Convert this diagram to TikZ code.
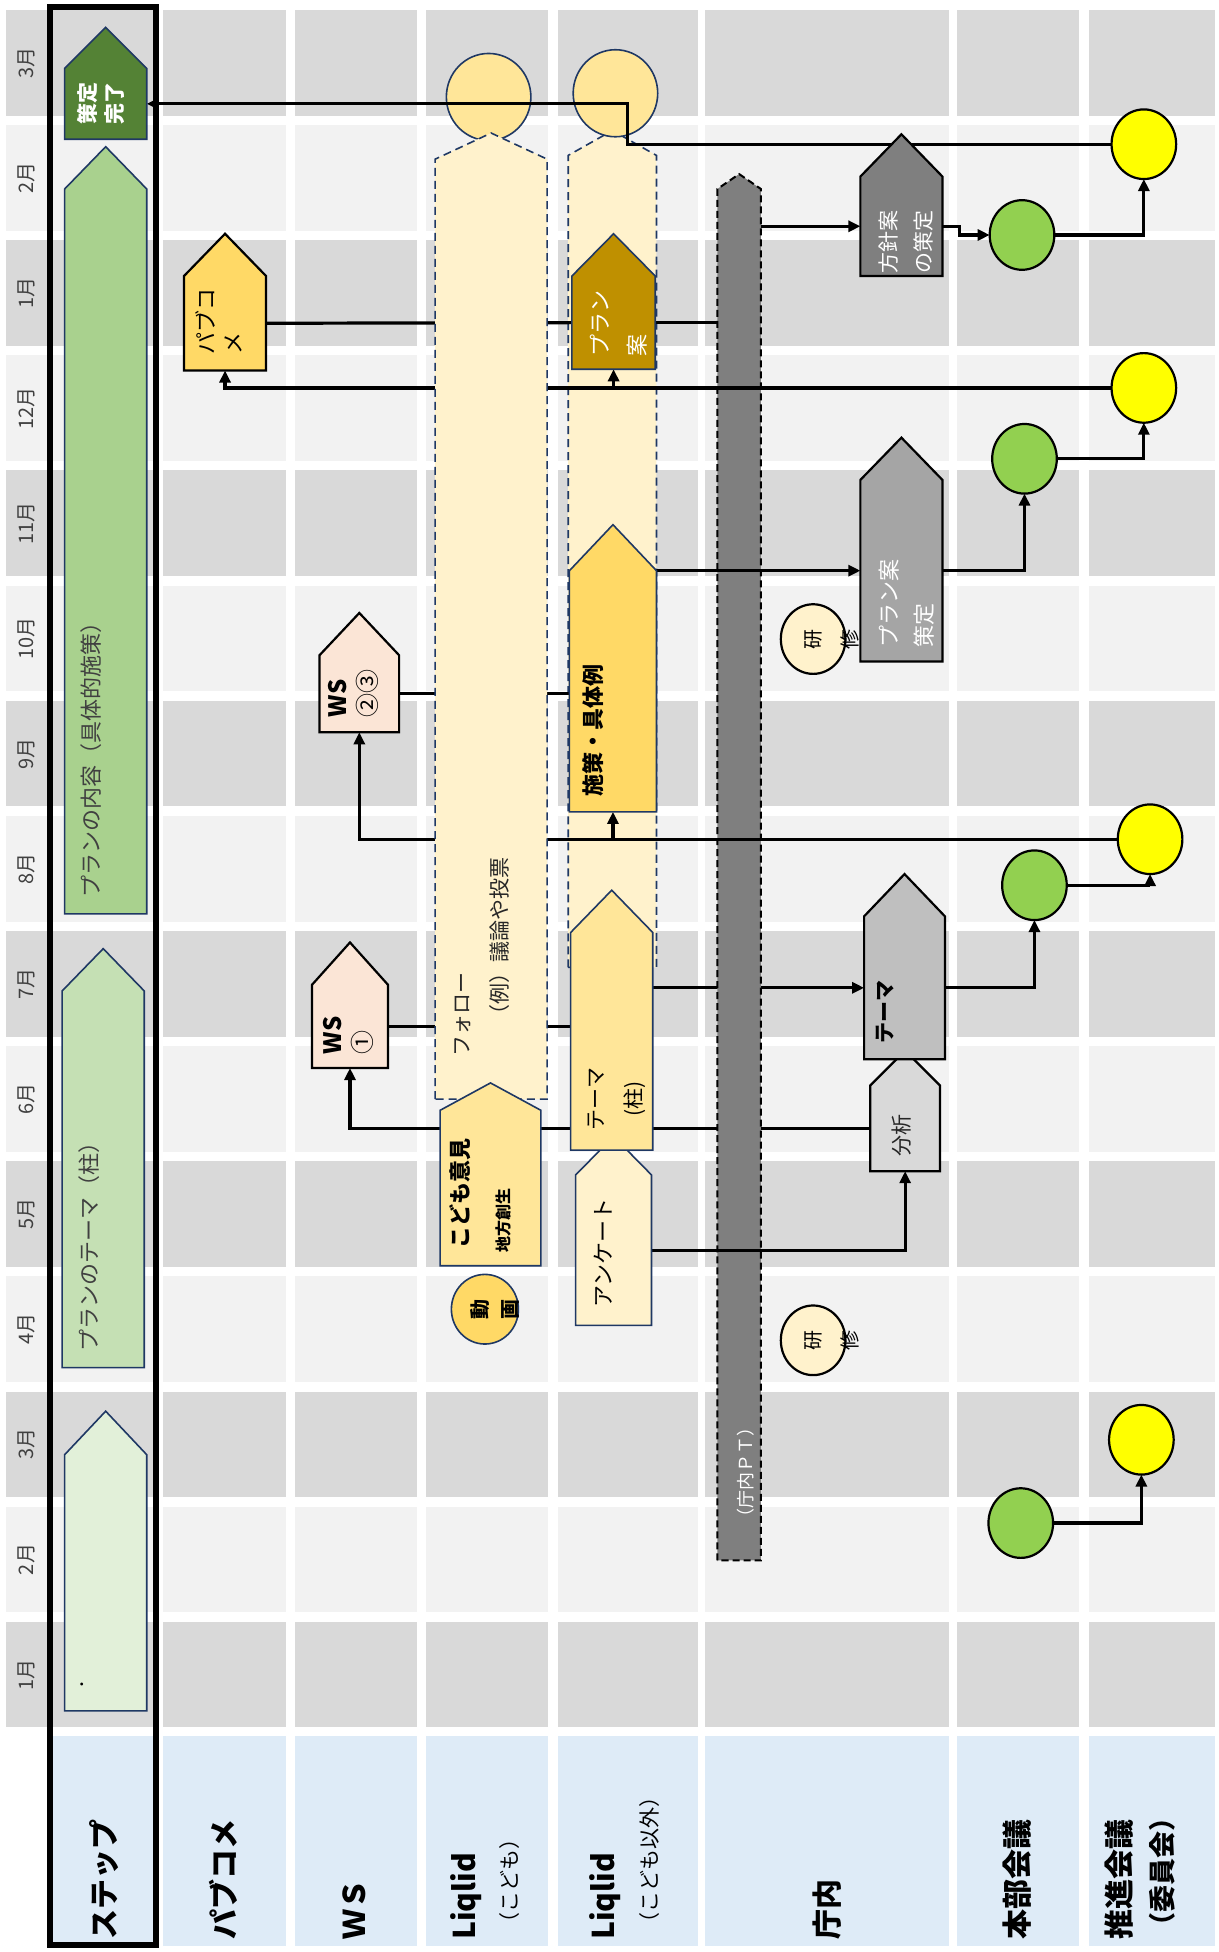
\documentclass[tikz,border=0pt]{standalone}
\usepackage{fontspec}
\setmainfont{Noto Sans CJK JP}
\usetikzlibrary{shapes.geometric,fit,arrows.meta}
\definecolor{dkgreen}{HTML}{548235}
\definecolor{grn2}{HTML}{A9D18E}
\definecolor{grn3}{HTML}{C5E0B4}
\definecolor{grn4}{HTML}{E2F0D9}
\definecolor{navy}{HTML}{1F3864}
\definecolor{yel}{HTML}{FFD966}
\definecolor{ltyel}{HTML}{FFE699}
\definecolor{cream}{HTML}{FFF2CC}
\definecolor{pinkc}{HTML}{FBE5D6}
\definecolor{gold}{HTML}{BF9000}
\definecolor{g7f}{HTML}{7F7F7F}
\definecolor{ga5}{HTML}{A5A5A5}
\definecolor{gbf}{HTML}{BFBFBF}
\definecolor{gd9}{HTML}{D9D9D9}
\definecolor{gf2}{HTML}{F2F2F2}
\definecolor{hdr}{HTML}{DEEBF7}
\definecolor{grc}{HTML}{92D050}
\definecolor{ylc}{HTML}{FFFF00}
\definecolor{txtg}{HTML}{404040}
\pgfdeclarelayer{grid}
\pgfdeclarelayer{low}
\pgfdeclarelayer{linesA}
\pgfdeclarelayer{ptl}
\pgfdeclarelayer{linesB}
\pgfsetlayers{grid,low,linesA,ptl,linesB,main}
% name, style, xl, xr, ytip, yshoulder, ybottom
\newcommand{\pent}[7]{%
  \filldraw[#2] (#3,#7) -- (#3,#6) -- ({(#3+#4)/2},#5) -- (#4,#6) -- (#4,#7) -- cycle;
  \node[fit={(#3,#6) (#4,#7)}, inner sep=0pt, outer sep=0pt] (#1) {};
}
\tikzset{
  blk/.style={draw=black, line width=2.2pt},
  nv/.style={draw=navy, line width=1.6pt},
  dsh/.style={draw=navy, line width=1.6pt, dash pattern=on 8pt off 5pt, fill=cream},
  ptst/.style={draw=black, line width=2pt, dash pattern=on 7pt off 4pt, fill=g7f},
  conn/.style={draw=black, line width=3.2pt},
  arr/.style={-{Triangle[length=12pt,width=11pt]}},
  circ/.style={ellipse, inner sep=0pt, outer sep=0pt, minimum width=64.6pt, minimum height=69.6pt, draw=black, line width=2.2pt},
  bigc/.style={ellipse, inner sep=0pt, outer sep=0pt, minimum width=84.5pt, minimum height=87pt, draw=navy, line width=1.6pt, fill=ltyel},
  rt/.style={rotate=90, inner sep=0pt, outer sep=0pt, align=left},
  hd/.style={rt, anchor=west, font=\bfseries\fontsize{30}{36}\selectfont},
}
\begin{document}
\begin{tikzpicture}[x=1.2429pt, y=-1.2429pt]
\useasboundingbox (0,0) rectangle (980,1570);
% ---------------- grid
\begin{pgfonlayer}{grid}
\foreach \i in {0,2,...,14} {
  \foreach \xl/\xr in {5/38, 40/127, 131/230, 237/335, 343/441, 449/561, 567/763, 770/868, 876/977}
    \fill[gd9] (\xl,{8+92.6*\i}) rectangle (\xr,{93+92.6*\i});
}
\foreach \i in {1,3,...,13} {
  \foreach \xl/\xr in {5/38, 40/127, 131/230, 237/335, 343/441, 449/561, 567/763, 770/868, 876/977}
    \fill[gf2] (\xl,{8+92.6*\i}) rectangle (\xr,{93+92.6*\i});
}
\foreach \xl/\xr in {40/127, 131/230, 237/335, 343/441, 449/561, 567/763, 770/868, 876/977}
  \fill[hdr] (\xl,1396) rectangle (\xr,1565);
\end{pgfonlayer}
% ---------------- low layer: plan area and top circles
\begin{pgfonlayer}{low}
\pent{planarea}{dsh}{457}{528}{105}{125}{778}
\node[bigc] (C1) at (393,78) {};
\node[bigc] (C2) at (495,75) {};
\end{pgfonlayer}
% ---------------- PT bar
\begin{pgfonlayer}{ptl}
\pent{ptbar}{ptst}{577}{612}{140}{152}{1255}
\end{pgfonlayer}
% ---------------- shapes (main)
\pent{kanryo}{nv, fill=dkgreen}{52}{118}{22}{55}{112}
\pent{naiyo}{nv, fill=grn2}{52}{118}{118}{152}{735}
\pent{theme}{nv, fill=grn3}{50}{116}{763}{797}{1100}
\pent{step1}{nv, fill=grn4}{52}{118}{1135}{1170}{1376}
\pent{pabu}{blk, fill=yel}{148}{214}{188}{222}{298}
\pent{ws23}{blk, fill=pinkc}{257}{321}{493}{527}{589}
\pent{ws1}{blk, fill=pinkc}{251}{312}{758}{792}{859}
\pent{follow}{dsh}{350}{440}{107}{128}{884}
\pent{kodomo}{nv, fill=ltyel}{354}{435}{871}{893}{1018}
\pent{planan}{nv, fill=gold}{460}{527}{188}{222}{297}
\pent{shisaku}{nv, fill=yel}{458}{528}{422}{459}{653}
\pent{enquete}{nv, fill=cream}{463}{524}{914}{945}{1066}
\pent{temahashira}{nv, fill=ltyel}{459}{525}{716}{750}{925}
\pent{hoshin}{blk, fill=g7f}{692}{758}{108}{142}{222}
\pent{plansakutei}{blk, fill=ga5}{692}{758}{352}{386}{532}
\pent{bunseki}{blk, fill=gd9}{700}{756}{845}{873}{942}
\pent{tema}{blk, fill=gbf}{695}{760}{703}{737}{852}
\node[circ, fill=ylc] (Y1) at (920,116) {};
\node[circ, fill=grc] (G1) at (822,189) {};
\node[circ, fill=ylc] (Y2) at (920,312) {};
\node[circ, fill=grc] (G2) at (824,369) {};
\node[circ, fill=ylc] (Y3) at (925,675) {};
\node[circ, fill=grc] (G3) at (832,712) {};
\node[circ, fill=ylc] (Y4) at (918,1158) {};
\node[circ, fill=grc] (G4) at (821,1225) {};
\node[circ, fill=cream] (K1) at (654,514) {};
\node[circ, fill=cream] (K2) at (654,1078) {};
\node[circ, draw=navy, line width=1.6pt, fill=yel, minimum width=67pt, minimum height=69.6pt] (DG) at (390,1053) {};
% ---------------- connectors behind the PT bar
\begin{pgfonlayer}{linesA}
\draw[conn, arr] (temahashira.east |- tema.west) -- (tema.west);
\draw[conn, arr] (bunseki.west) -| (ws1.south);
\draw[conn] (pabu.east) -- (planan.west);
\draw[conn] (planan.east) -- (ptbar.west |- planan.east);
\end{pgfonlayer}
% ---------------- connectors over the PT bar
\begin{pgfonlayer}{linesB}
\draw[conn, arr] (Y1.west) -- (505,116) |- (kanryo.east);
\draw[conn, arr] (ptbar.east |- hoshin.west) -- (hoshin.west);
\draw[conn, arr] (hoshin.east) -- ++(14,0) |- (G1.west);
\draw[conn, arr] (G1.east) -| (Y1.south);
\draw[conn, arr] (Y2.west) -| (pabu.south);
\draw[conn, arr] (planan.south |- Y2.west) -- (planan.south);
\draw[conn, arr] (shisaku.north east) -- (plansakutei.west);
\draw[conn, arr] (plansakutei.east) -| (G2.south);
\draw[conn, arr] (G2.east) -| (Y2.south);
\draw[conn, arr] (Y3.west) -| (ws23.south);
\draw[conn, arr] (shisaku.south |- Y3.west) -- (shisaku.south);
\draw[conn] (ws23.east) -- (shisaku.west |- ws23.east);
\draw[conn] (ws1.east) -- (temahashira.west |- ws1.east);
\draw[conn, arr] (tema.east) -| (G3.south);
\draw[conn, arr] (G3.east) -| (Y3.south);
\draw[conn, arr] (enquete.east) -| (bunseki.south);
\draw[conn, arr] (G4.east) -| (Y4.south);
\end{pgfonlayer}
% ---------------- thick frame around the step column
\draw[line width=6.2pt] (40.5,5.5) rectangle (125.5,1564.5);
% ---------------- month labels
\foreach \m [count=\k from 0] in {3月,2月,1月,12月,11月,10月,9月,8月,7月,6月,5月,4月,3月,2月,1月}
  \node[rt, anchor=center, text=txtg, font=\fontsize{20}{22}\selectfont] (m\k) at (21,{50.5+92.6*\k}) {\m};
% ---------------- texts in shapes
\node[rt, anchor=center, align=center, text=white, font=\bfseries\fontsize{21}{27}\selectfont] (tkanryo) at (81,83) {策定\\完了};
\node[rt, anchor=west, text=txtg, font=\fontsize{22}{27}\selectfont] (tnaiyo) at (73,722) {プランの内容（具体的施策）};
\node[rt, anchor=west, text=txtg, font=\fontsize{22}{27}\selectfont] (ttheme) at (72,1087) {プランのテーマ（柱）};
\node[rt, anchor=center, font=\fontsize{14}{16}\selectfont] (tdot) at (68,1355) {・};
\node[rt, anchor=west, font=\fontsize{22}{27}\selectfont] (tpabu) at (176,285) {パブコ\\メ};
\node[rt, anchor=west, font=\fontsize{24}{30}\selectfont] (tws23) at (284,577) {\textbf{WS}\\②③};
\node[rt, anchor=west, font=\fontsize{24}{30}\selectfont] (tws1) at (280,848) {\textbf{WS}\\①};
\node[rt, anchor=west, text=black!85, font=\fontsize{21}{26}\selectfont] (tfollow1) at (372,850) {フォロー};
\node[rt, anchor=west, text=black!85, font=\fontsize{21}{26}\selectfont] (tfollow2) at (402,825) {（例）議論や投票};
\node[rt, anchor=west, font=\bfseries\fontsize{22}{27}\selectfont] (tkodomo) at (370,1004) {こども意見};
\node[rt, anchor=west, font=\bfseries\fontsize{16}{19}\selectfont] (tchiho) at (405,1007) {地方創生};
\node[rt, anchor=center, align=center, font=\bfseries\fontsize{20}{30}\selectfont] (tdouga) at (398,1053) {動\\画};
\node[rt, anchor=west, font=\bfseries\fontsize{22}{27}\selectfont] (tshisaku) at (477,641) {施策・具体例};
\node[rt, anchor=west, text=white, font=\fontsize{22}{37}\selectfont] (tplanan) at (498,287) {プラン\\案};
\node[rt, anchor=center, align=center, font=\fontsize{21}{38}\selectfont] (ttemah) at (496,884) {テーマ\\(柱)};
\node[rt, anchor=west, font=\fontsize{22}{27}\selectfont] (tenq) at (485,1052) {アンケート};
\node[rt, anchor=west, text=white, font=\fontsize{18}{22}\selectfont] (tpt) at (600,1228) {（庁内ＰＴ）};
\node[rt, anchor=west, text=white, font=\fontsize{21}{35}\selectfont] (thoshin) at (729,220) {方針案\\の策定};
\node[rt, anchor=west, text=white, font=\fontsize{22}{35}\selectfont] (tplans) at (729,521) {プラン案\\策定};
\node[rt, anchor=west, font=\bfseries\fontsize{21}{26}\selectfont] (ttema) at (712,839) {テーマ};
\node[rt, anchor=west, text=black!85, font=\fontsize{21}{26}\selectfont] (tbunseki) at (725,930) {分析};
\node[rt, anchor=center, align=center, font=\fontsize{20}{37}\selectfont] (tken1) at (669,514) {研\\修};
\node[rt, anchor=center, align=center, font=\fontsize{20}{37}\selectfont] (tken2) at (669,1078) {研\\修};
% ---------------- headers
\node[hd] (hstep) at (84,1560) {ステップ};
\node[hd] (hpabu) at (180,1560) {パブコメ};
\node[hd] (hws) at (285,1560) {ＷＳ};
\node[hd] (hlq1) at (375,1560) {Liqlid};
\node[rt, anchor=west, font=\fontsize{21}{25}\selectfont] (hlq1b) at (410,1555) {（こども）};
\node[hd] (hlq2) at (487,1560) {Liqlid};
\node[rt, anchor=west, font=\fontsize{21}{25}\selectfont] (hlq2b) at (522,1555) {（こども以外）};
\node[hd] (hcho) at (665,1560) {庁内};
\node[hd] (hhonbu) at (818,1560) {本部会議};
\node[hd] (hsuishin) at (900,1560) {推進会議};
\node[rt, anchor=west, font=\bfseries\fontsize{27}{32}\selectfont] (hiin) at (935,1560) {（委員会）};
\end{tikzpicture}
\end{document}
